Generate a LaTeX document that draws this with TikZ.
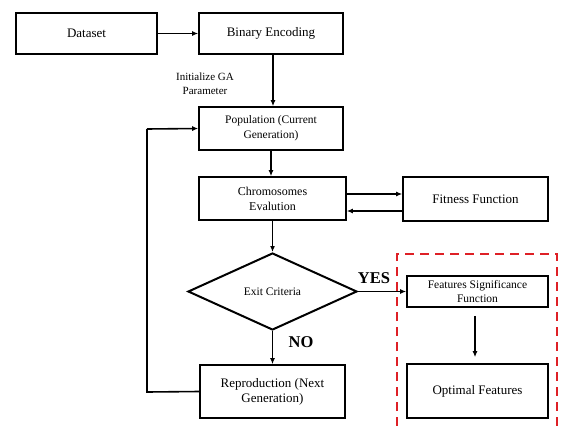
\documentclass[tikz,border=0pt]{standalone}
\usepackage{fontspec}
\setmainfont{Liberation Serif}
\usetikzlibrary{arrows.meta,shapes.geometric}
\definecolor{dashred}{RGB}{222,32,38}
\begin{document}
\begin{tikzpicture}[x=1pt,y=-1pt,
  box/.style={draw,line width=1.6pt,rectangle,inner sep=0pt,align=center,font=\fontsize{13}{15}\selectfont},
  thickbox/.style={box,line width=2.8pt},
  arr/.style={line width=1.6pt,-{Latex[length=6pt,width=5pt]}},
  lbl/.style={font=\fontsize{16.5}{18}\selectfont\bfseries,inner sep=0pt}]
\useasboundingbox (0,0) rectangle (561,425);
\node[thickbox,minimum width=141pt,minimum height=41pt] (ds) at (86.5,33.5) {Dataset};
\node[box,minimum width=144pt,minimum height=41pt] (be) at (271,33.5) {Binary Encoding};
\node[box,minimum width=144pt,minimum height=43pt,font=\fontsize{11.5}{15}\selectfont] (pop) at (271,128.5) {Population (Current\\Generation)};
\node[box,minimum width=147pt,minimum height=43pt,font=\fontsize{12}{15}\selectfont] (ce) at (272.5,198.5) {Chromosomes\\Evalution};
\node[box,minimum width=145pt,minimum height=44pt] (ff) at (475.5,199) {Fitness Function};
\node[draw,diamond,line width=2pt,inner sep=0pt,minimum width=169pt,minimum height=77pt,font=\fontsize{11.5}{14}\selectfont] (ec) at (272.5,291.5) {Exit Criteria};
\node[box,minimum width=145pt,minimum height=53pt] (rp) at (272.5,391.5) {Reproduction (Next\\Generation)};
\node[box,minimum width=141pt,minimum height=31pt,font=\fontsize{11.5}{14}\selectfont] (fs) at (477.5,291.5) {Features Significance\\Function};
\node[box,minimum width=141pt,minimum height=54pt] (of) at (477.5,391) {\raisebox{-5pt}{Optimal Features}};
\node[align=center,inner sep=0pt,font=\fontsize{11}{14}\selectfont] (ini) at (205,84) {Initialize GA\\Parameter};
\node[lbl] (yes) at (374,278) {YES};
\node[lbl] (no) at (301,342) {NO};
\coordinate (lb) at (147,392);
\coordinate (lt) at (147,129);
\draw[arr] (ds.east) -- (be.west);
\draw[arr] ([xshift=2pt]be.south) -- ([xshift=2pt]pop.north);
\draw[arr] (pop.south) -- (pop.south |- ce.north);
\draw[arr] (ce.south) -- (ec.north);
\draw[arr] ([yshift=4.5pt]ce.east) -- ([yshift=5pt]ff.west);
\draw[arr] ([yshift=-12pt]ff.west) -- ([yshift=-12.5pt]ce.east);
\draw[arr] (ec.east) -- (fs.west);
\draw[arr,shorten <=8pt,shorten >=6pt] ([xshift=-2.5pt]fs.south) -- ([xshift=-2.5pt]of.north);
\draw[arr] (ec.south) -- (rp.north);
\draw[line width=1.6pt] (rp.west) -- (lb) -- (lt);
\draw[arr] (lt) -- (pop.west);
\draw[dashred,line width=2.4pt,dash pattern=on 9pt off 6pt] (397,426) -- (397,254) -- (557,254) -- (557,426);
\end{tikzpicture}
\end{document}
